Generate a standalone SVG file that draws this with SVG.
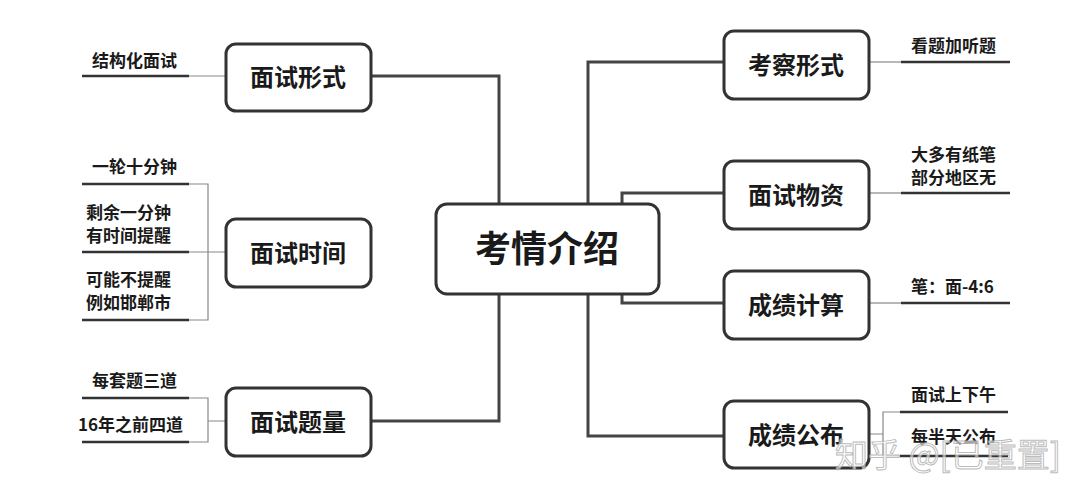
<svg xmlns="http://www.w3.org/2000/svg" width="1080" height="500" viewBox="0 0 1080 500">
<style>
.node rect{fill:#fff;stroke:#333;stroke-width:3}
.nt{font-family:"Noto Sans CJK SC","Noto Sans",sans-serif;font-weight:700;font-size:24px;fill:#1a1a1a;text-anchor:middle}
.ct{font-size:36px}
.lt{font-family:"Noto Sans CJK SC","Noto Sans",sans-serif;font-weight:600;font-size:17px;fill:#1a1a1a}
.main{fill:none;stroke:#444;stroke-width:3}
.ul{stroke:#333;stroke-width:2.5}
.thin{fill:none;stroke:#888;stroke-width:1.2}
.wm{font-family:"Noto Sans CJK SC",sans-serif;font-size:33px;fill:#fff;fill-opacity:0.6;stroke:#aaa;stroke-width:1;stroke-opacity:0.8}
</style>
<rect width="1080" height="500" fill="#fff"/>
<g id="connectors">
<path class="main" d="M371 76 H499 V204"/>
<path class="main" d="M371 421 H499 V294"/>
<path class="main" d="M724 62 H588 V204"/>
<path class="main" d="M724 436 H588 V294"/>
<path class="main" d="M724 193 H622 V204"/>
<path class="main" d="M724 303 H622 V294"/>
<path class="thin" d="M189 76 H226"/>
<path class="thin" d="M189 184 H208 V320 H189 M208 252 H226 M189 252 H208"/>
<path class="thin" d="M189 398 H208 V442 H189 M208 421 H226"/>
<path class="thin" d="M869 62 H901"/>
<path class="thin" d="M869 193 H901"/>
<path class="thin" d="M869 303 H901"/>
<path class="thin" d="M900 412 H883 V456 H900 M869 434 H883"/>
<g class="ul">
<line x1="82" y1="76" x2="189" y2="76"/>
<line x1="82" y1="184" x2="189" y2="184"/>
<line x1="82" y1="252" x2="189" y2="252"/>
<line x1="82" y1="320" x2="189" y2="320"/>
<line x1="82" y1="398" x2="189" y2="398"/>
<line x1="82" y1="442" x2="189" y2="442"/>
<line x1="901" y1="62" x2="1010" y2="62"/>
<line x1="901" y1="193" x2="1010" y2="193"/>
<line x1="901" y1="303" x2="1010" y2="303"/>
<line x1="900" y1="412" x2="1008" y2="412"/>
<line x1="900" y1="456" x2="1008" y2="456"/>
</g>
</g>
<g id="center" class="node"><rect x="436" y="204" width="223" height="90" rx="11"/><text class="nt ct" x="547" y="262">考情介绍</text></g>
<g id="n1" class="node"><rect x="226" y="44" width="145" height="67" rx="10"/><text class="nt" x="298" y="86">面试形式</text></g>
<g id="n2" class="node"><rect x="226" y="219" width="145" height="68" rx="10"/><text class="nt" x="298" y="262">面试时间</text></g>
<g id="n3" class="node"><rect x="226" y="388" width="145" height="68" rx="10"/><text class="nt" x="298" y="431">面试题量</text></g>
<g id="n4" class="node"><rect x="724" y="31" width="145" height="68" rx="10"/><text class="nt" x="796" y="74">考察形式</text></g>
<g id="n5" class="node"><rect x="724" y="161" width="145" height="68" rx="10"/><text class="nt" x="796" y="204">面试物资</text></g>
<g id="n6" class="node"><rect x="724" y="271" width="145" height="68" rx="10"/><text class="nt" x="796" y="314">成绩计算</text></g>
<g id="n7" class="node"><rect x="724" y="401" width="145" height="67" rx="10"/><text class="nt" x="796" y="444">成绩公布</text></g>
<g id="leaves">
<text class="lt" x="92" y="67">结构化面试</text>
<text class="lt" x="92" y="173">一轮十分钟</text>
<text class="lt" x="86" y="219">剩余一分钟</text>
<text class="lt" x="86" y="242">有时间提醒</text>
<text class="lt" x="86" y="286">可能不提醒</text>
<text class="lt" x="86" y="309">例如邯郸市</text>
<text class="lt" x="92" y="387">每套题三道</text>
<text class="lt" x="78" y="431">16年之前四道</text>
<text class="lt" x="911" y="52">看题加听题</text>
<text class="lt" x="911" y="161">大多有纸笔</text>
<text class="lt" x="911" y="184">部分地区无</text>
<text class="lt" x="911" y="293">笔：面-4:6</text>
<text class="lt" x="911" y="401">面试上下午</text>
<text class="lt" x="911" y="443">每半天公布</text>
</g>
<text class="wm" x="835" y="467">知乎 @[已重置]</text>
</svg>
